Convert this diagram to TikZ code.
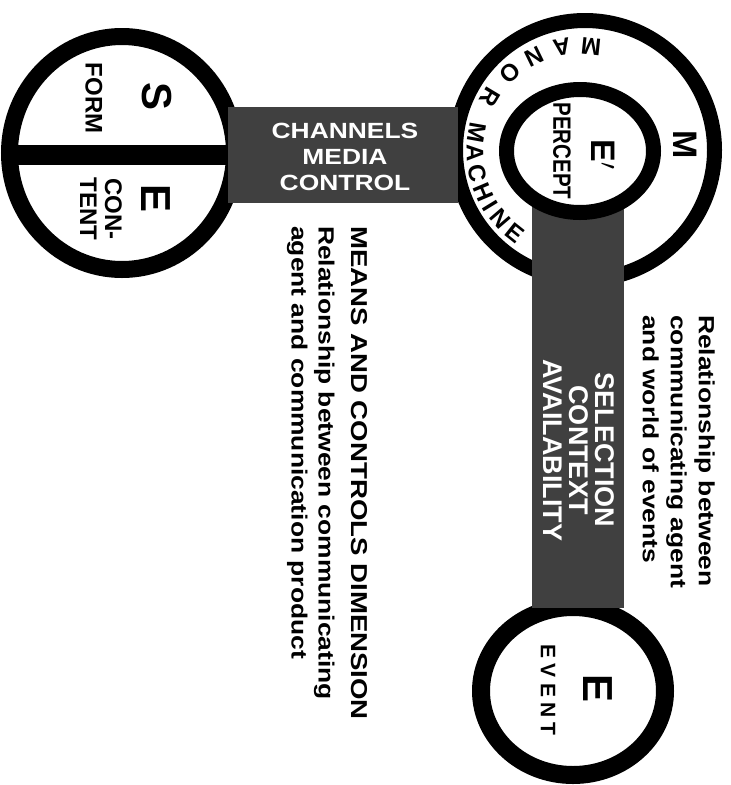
\documentclass[tikz,border=0pt]{standalone}
\usepackage{fontspec}
\setmainfont{Liberation Sans}
\newfontfamily\widefont[FakeStretch=1.2]{Liberation Sans}
\newfontfamily\narrowfont[FakeStretch=0.82]{Liberation Sans}
\newfontfamily\spacedfont[LetterSpace=25]{Liberation Sans}
\newcommand{\fsz}[1]{\fontsize{#1}{#1}\selectfont}

\begin{document}
\begin{tikzpicture}[x=1pt, y=-1pt,
    ring/.style={draw=black, line width=15pt},
    bar/.style={fill=black!75},
    vtext/.style={rotate=-90, inner sep=0pt},
    big/.style={vtext, font=\bfseries\fsz{42}},
    onbar/.style={text=white, inner sep=0pt, align=center},
    arcletter/.style={inner sep=0pt, font=\bfseries\fsz{24}}]
    \useasboundingbox (0,0) rectangle (731,785);
    % centres
    \coordinate (mc) at (585,150);
    \coordinate (pc) at (580,151);
    \coordinate (sc) at (122,153);
    \coordinate (ec) at (573,691);

    % circles
    \fill[white] (mc) circle[radius=137];
    \draw[ring] (mc) circle[radius=129.5];
    \draw[ring, line width=17pt, fill=white] (sc) ellipse[x radius=112.5, y radius=116.5];
    \fill (8,145) rectangle (236,165);
    \draw[ring, line width=18pt, fill=white] (ec) ellipse[x radius=92, y radius=84];

    % bars
    \fill[bar] (228,107) rectangle (458,203);
    \fill[bar] (532,200) rectangle (624,608);
    \draw[ring, fill=white] (pc) ellipse[x radius=73.5, y radius=61.5];

    % Message
    \node[big] (s) at (157,97) {S};
    \node[big] (content-e) at (156,199) {E};
    \node[vtext, font=\bfseries\fsz{24}] (form) at (94,98) {FORM};
    \node[vtext, align=center, font=\bfseries\fontsize{24}{25}\selectfont] (content) at (101,209) {CON-\\TENT};

    % Man or machine
    \node[vtext, font=\bfseries\fsz{34}] (m) at (685,145) {M};
    \node[vtext, font=\bfseries\fsz{34}] (percept-e) at (603,155) {E$'$};
    \node[vtext, font=\narrowfont\bfseries\fsz{25}] (percept) at (562,151) {PERCEPT};
    \foreach \ch/\ang [count=\i] in {M/84, A/100, N/116, O/132, R/149,
        M/170, A/181, C/192, H/203, I/211.5, N/220.5, E/231.5}
        \node[arcletter, rotate=\ang+90] (ring-\i) at ([shift={(-\ang:105)}]pc) {\ch};

    % Event
    \node[big] (event-e) at (598,688) {E};
    \node[vtext, font=\spacedfont\bfseries\fsz{21}] (event) at (548,690) {EVENT};

    % bar labels
    \node[onbar, font=\widefont\bfseries\fontsize{22}{26}\selectfont] (channels) at (345,157) {CHANNELS\\MEDIA\\CONTROL};
    \node[onbar, vtext, font=\bfseries\fontsize{27}{26}\selectfont] (selection) at (579,450) {SELECTION\\CONTEXT\\AVAILABILITY};

    % dimensions
    \node[vtext, anchor=north west, align=left, font=\widefont\bfseries\fontsize{22}{28}\selectfont] (rel-events) at (715,315) {Relationship between\\communicating agent\\and world of events};
    \node[vtext, anchor=north west, align=left, font=\widefont\bfseries\fontsize{22}{27}\selectfont] (means) at (368,226) {{\fontsize{23}{27}\selectfont MEANS AND CONTROLS DIMENSION}\\[6pt]Relationship between communicating\\agent and communication product};
\end{tikzpicture}
\end{document}
